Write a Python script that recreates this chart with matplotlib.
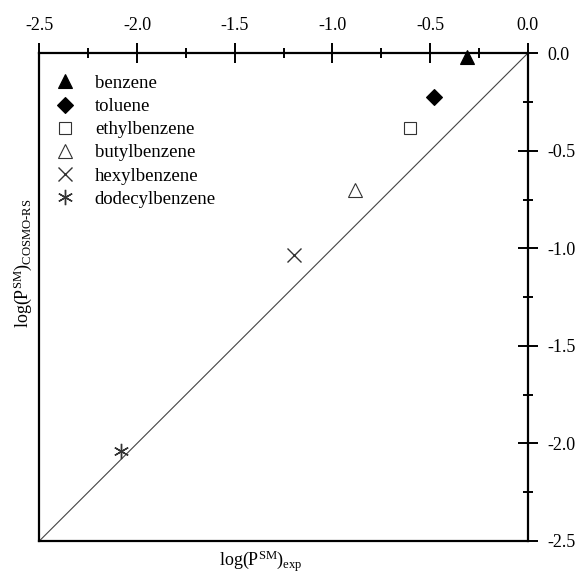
import matplotlib
matplotlib.use("Agg")
import matplotlib.pyplot as plt
from matplotlib.ticker import MultipleLocator, FormatStrFormatter

plt.rcParams['font.family'] = ['Liberation Serif', 'DejaVu Serif']
plt.rcParams['mathtext.fontset'] = 'custom'
plt.rcParams['mathtext.rm'] = 'Liberation Serif'
plt.rcParams['mathtext.it'] = 'Liberation Serif:italic'

compounds = ["benzene", "toluene", "ethylbenzene", "butylbenzene", "hexylbenzene", "dodecylbenzene"]
log_p_exp = [-0.31, -0.48, -0.603, -0.885, -1.194, -2.081]
log_p_cosmo = [-0.02, -0.223, -0.385, -0.70, -1.033, -2.038]
markers = ["^", "D", "s", "^", "x", "*"]
filled = [True, True, False, False, True, True]
msizes = [10, 8, 8, 10, 10, 11]

fig = plt.figure(figsize=(5.79, 5.74), dpi=100)
ax = fig.add_axes([0.0679, 0.0575, 0.8435, 0.8496])

ax.plot([-2.5, 0.0], [-2.5, 0.0], color="#444444", lw=0.8, zorder=1)

for name, x, y, m, f, s in zip(compounds, log_p_exp, log_p_cosmo, markers, filled, msizes):
    if m == "*":
        ax.plot(x, y, linestyle="none", marker=(6, 2, 0), markersize=s, color="#333333",
                markeredgewidth=1.0, label=name, clip_on=False, zorder=3)
    elif m == "x":
        ax.plot(x, y, linestyle="none", marker="x", markersize=s, color="#333333",
                markeredgewidth=1.0, label=name, clip_on=False, zorder=3)
    else:
        ax.plot(x, y, linestyle="none", marker=m, markersize=s,
                markerfacecolor="black" if f else "white", markeredgecolor="black" if f else "#333333",
                markeredgewidth=0.8, label=name, clip_on=False, zorder=3)

ax.set_xlim(-2.5, 0.0)
ax.set_ylim(-2.5, 0.0)

ax.xaxis.tick_top()
ax.yaxis.tick_right()
ax.xaxis.set_major_locator(MultipleLocator(0.5))
ax.xaxis.set_minor_locator(MultipleLocator(0.25))
ax.yaxis.set_major_locator(MultipleLocator(0.5))
ax.yaxis.set_minor_locator(MultipleLocator(0.25))
ax.xaxis.set_major_formatter(FormatStrFormatter("%.1f"))
ax.yaxis.set_major_formatter(FormatStrFormatter("%.1f"))

ax.tick_params(which="major", direction="inout", length=15, width=1.4, labelsize=13)
ax.tick_params(which="minor", direction="inout", length=6.5, width=1.4)
ax.tick_params(axis="x", which="major", pad=6.5)
ax.tick_params(axis="y", which="major", pad=6.5)
for sp in ax.spines.values():
    sp.set_linewidth(1.6)

ax.set_xlabel(r"log(P$^{\mathrm{SM}}$)$_{\mathrm{exp}}$", fontsize=13)
ax.xaxis.set_label_position("bottom")
ax.set_ylabel(r"log(P$^{\mathrm{SM}}$)$_{\mathrm{COSMO}\text{-}\mathrm{RS}}$", fontsize=13)
ax.yaxis.set_label_position("left")
ax.xaxis.set_label_coords(0.454, -0.015)
ax.yaxis.set_label_coords(-0.0115, 0.57)

ax.legend(loc="upper left", bbox_to_anchor=(-0.01, 1.0), frameon=False, fontsize=13.5,
          handletextpad=1.07, labelspacing=0.32, borderaxespad=0.7, handlelength=1.0,
          borderpad=0.45)

fig.savefig("out.png", dpi=100)
